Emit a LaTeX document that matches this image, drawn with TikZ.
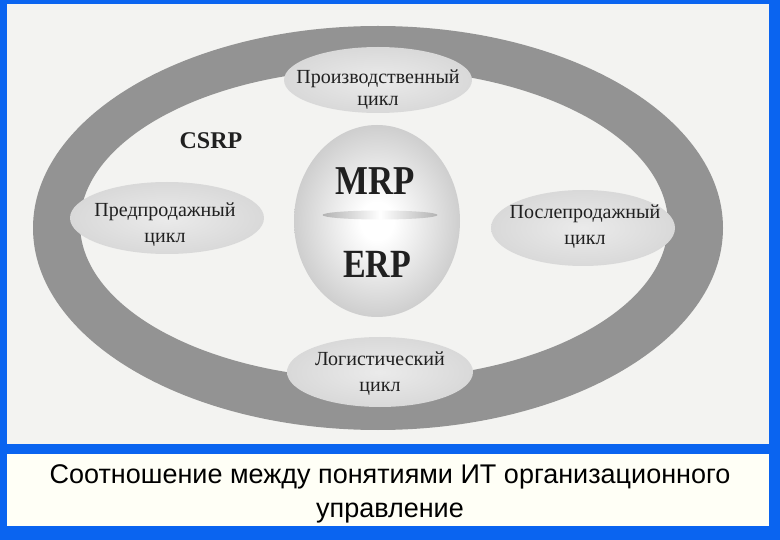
\documentclass[tikz,border=0pt]{standalone}
\usepackage{fontspec}
\setmainfont{Liberation Serif}
\newfontfamily\capfont{Liberation Sans}
\usetikzlibrary{shapes.geometric}
\definecolor{frameblue}{HTML}{0A64F0}
\definecolor{scanbg}{HTML}{F3F3F1}
\definecolor{ringgray}{HTML}{939393}
\definecolor{capbg}{HTML}{FFFFF6}
\definecolor{inkc}{HTML}{202020}
\pgfdeclareradialshading{spheresh}{\pgfpoint{0bp}{0bp}}{color(0bp)=(white); color(5bp)=(white); color(28bp)=(black!22); color(50bp)=(black!40); color(75bp)=(black!40)}
\pgfdeclareradialshading{cyclesh}{\pgfpoint{0bp}{0bp}}{color(0bp)=(black!8); color(25bp)=(black!15); color(50bp)=(black!30); color(75bp)=(black!30)}
\tikzset{
  cyclebox/.style={ellipse, draw=none, shading=cyclesh, inner sep=0pt},
  lbl/.style={font=\fontsize{20}{26}\selectfont, text=inkc, align=center},
  big/.style={text=inkc, inner sep=0pt},
}
\begin{document}
\begin{tikzpicture}[x=1pt,y=-1pt]
\useasboundingbox (0,0) rectangle (780,540);
\fill[frameblue] (0,0) rectangle (780,540);
\fill[scanbg] (7,4) rectangle (769,444);
\fill[capbg] (7,454) rectangle (769,526);
% ring
\fill[ringgray, even odd rule] (378,228) ellipse [x radius=345, y radius=202]
                               (374,224) ellipse [x radius=294, y radius=155];
% central sphere
\node[ellipse, shading=spheresh, minimum width=166, minimum height=192, inner sep=0pt] (core) at (377,221) {};
\node[ellipse, inner sep=0pt, minimum width=115, minimum height=9, left color=black!30, right color=black!30, middle color=white] (lens) at (380,215) {};
\node[big] (mrp) at (375,181) {\scalebox{0.85}[1]{\fontsize{41}{41}\selectfont\bfseries MRP}};
\node[big] (erp) at (377,264) {\scalebox{0.85}[1]{\fontsize{40}{40}\selectfont\bfseries ERP}};
% cycles
\node[cyclebox, minimum width=188, minimum height=66] (prod) at (378,80) {};
\node[lbl, font=\fontsize{20}{22}\selectfont] (prodt) at (378,90) {Производственный\\цикл};
\node[cyclebox, minimum width=194, minimum height=72] (pre) at (167,218) {};
\node[lbl] (pret) at (165,225) {Предпродажный\\цикл};
\node[cyclebox, minimum width=184, minimum height=76] (post) at (583,228) {};
\node[lbl] (postt) at (585,227) {Послепродажный\\цикл};
\node[cyclebox, minimum width=186, minimum height=70] (log) at (380,372) {};
\node[lbl] (logt) at (380,374) {Логистический\\цикл};
\node[big] (csrp) at (211,141) {\fontsize{24}{24}\selectfont\bfseries CSRP};
% caption
\node[text=black, align=center, font=\capfont\fontsize{27}{31}\selectfont] (cap) at (390,494)
  {Соотношение между понятиями ИТ организационного\\[3pt]управление};
\end{tikzpicture}
\end{document}
